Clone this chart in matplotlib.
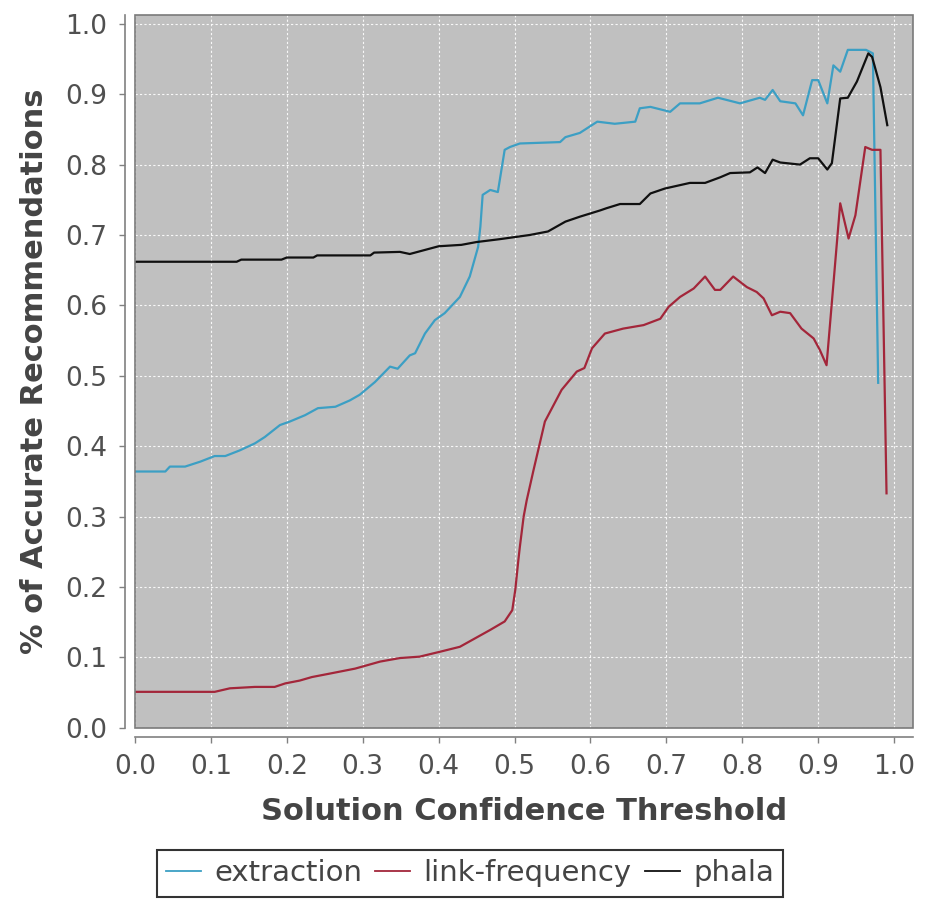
import numpy as np
import matplotlib
matplotlib.use("Agg")
import matplotlib.pyplot as plt
from matplotlib.patches import Rectangle

# ---------------------------------------------------------------
# datos (umbral de confianza -> % aciertos)
# ---------------------------------------------------------------
x_ext = [0.00, 0.04, 0.046, 0.066, 0.086, 0.105, 0.119, 0.138, 0.158, 0.171,
         0.191, 0.204, 0.224, 0.241, 0.264, 0.283, 0.296, 0.316, 0.336, 0.346,
         0.362, 0.369, 0.382, 0.395, 0.408, 0.428, 0.441, 0.452, 0.455, 0.458,
         0.468, 0.478, 0.487, 0.494, 0.507, 0.56, 0.567, 0.586, 0.609, 0.632,
         0.659, 0.665, 0.679, 0.705, 0.718, 0.744, 0.768, 0.797, 0.823, 0.83,
         0.84, 0.85, 0.87, 0.88, 0.892, 0.90, 0.912, 0.92, 0.929, 0.939,
         0.955, 0.963, 0.972, 0.979]
y_ext = [0.364, 0.364, 0.371, 0.371, 0.378, 0.386, 0.386, 0.394, 0.404, 0.413,
         0.430, 0.435, 0.444, 0.454, 0.456, 0.465, 0.473, 0.491, 0.513, 0.510,
         0.529, 0.532, 0.560, 0.579, 0.589, 0.612, 0.641, 0.683, 0.712, 0.757,
         0.764, 0.761, 0.821, 0.825, 0.830, 0.832, 0.839, 0.845, 0.861, 0.858,
         0.861, 0.880, 0.882, 0.875, 0.887, 0.887, 0.895, 0.887, 0.895, 0.892,
         0.906, 0.890, 0.887, 0.870, 0.920, 0.920, 0.887, 0.941, 0.932, 0.963,
         0.963, 0.963, 0.958, 0.490]

x_lf = [0.0, 0.105, 0.125, 0.158, 0.184, 0.198, 0.217, 0.233, 0.257, 0.29,
        0.323, 0.349, 0.375, 0.402, 0.428, 0.448, 0.468, 0.487, 0.497, 0.501,
        0.505, 0.507, 0.512, 0.516, 0.525, 0.54, 0.562, 0.582, 0.592, 0.602,
        0.619, 0.643, 0.67, 0.692, 0.703, 0.718, 0.736, 0.751, 0.764, 0.771,
        0.788, 0.806, 0.819, 0.828, 0.839, 0.85, 0.863, 0.878, 0.894, 0.902,
        0.911, 0.929, 0.94, 0.949, 0.962, 0.971, 0.982, 0.99]
y_lf = [0.051, 0.051, 0.056, 0.058, 0.058, 0.063, 0.067, 0.072, 0.077, 0.084,
        0.094, 0.099, 0.101, 0.108, 0.115, 0.127, 0.139, 0.151, 0.167, 0.196,
        0.238, 0.257, 0.300, 0.323, 0.366, 0.435, 0.480, 0.506, 0.511, 0.539,
        0.560, 0.567, 0.572, 0.581, 0.598, 0.612, 0.624, 0.641, 0.622, 0.622,
        0.641, 0.626, 0.619, 0.610, 0.586, 0.591, 0.589, 0.567, 0.553, 0.537,
        0.515, 0.745, 0.695, 0.728, 0.825, 0.821, 0.821, 0.333]

x_ph = [0.0, 0.134, 0.14, 0.193, 0.20, 0.235, 0.24, 0.31, 0.315, 0.349,
        0.362, 0.40, 0.43, 0.45, 0.48, 0.52, 0.544, 0.567, 0.586, 0.613,
        0.621, 0.639, 0.665, 0.679, 0.698, 0.731, 0.751, 0.771, 0.784, 0.81,
        0.82, 0.83, 0.84, 0.85, 0.876, 0.889, 0.90, 0.912, 0.918, 0.929,
        0.939, 0.951, 0.966, 0.971, 0.982, 0.991]
y_ph = [0.662, 0.662, 0.665, 0.665, 0.668, 0.668, 0.671, 0.671, 0.675, 0.676,
        0.673, 0.684, 0.686, 0.690, 0.694, 0.700, 0.705, 0.719, 0.726, 0.735,
        0.738, 0.744, 0.744, 0.759, 0.766, 0.774, 0.774, 0.782, 0.788, 0.789,
        0.796, 0.788, 0.807, 0.803, 0.800, 0.809, 0.809, 0.793, 0.802, 0.894,
        0.895, 0.918, 0.958, 0.953, 0.910, 0.856]

ticks = [0.0, 0.1, 0.2, 0.3, 0.4, 0.5, 0.6, 0.7, 0.8, 0.9, 1.0]
tick_labels = ["0.0", "0.1", "0.2", "0.3", "0.4", "0.5", "0.6", "0.7", "0.8", "0.9", "1.0"]

# ---------------------------------------------------------------
# figura
# ---------------------------------------------------------------
fig = plt.figure(figsize=(9.27, 9.0), dpi=100)
ax = fig.add_axes([0.1456, 0.1914, 0.8394, 0.7923])
ax.set_facecolor("#c0c0c0")

ax.plot(x_ext, y_ext, color="#3c9fc4", lw=1.6, label="extraction")
ax.plot(x_lf, y_lf, color="#a3263a", lw=1.6, label="link-frequency")
ax.plot(x_ph, y_ph, color="#101010", lw=1.6, label="phala")

ax.set_xlim(0, 1.025)
ax.set_ylim(0, 1.013)

ax.set_xticks(ticks)
ax.set_xticklabels(tick_labels)
ax.set_yticks(ticks)
ax.set_yticklabels(tick_labels)
ax.grid(True, color="white", linestyle=(0, (2, 2)), linewidth=0.8, alpha=0.9)
ax.set_axisbelow(True)

# ejes separados del area del grafico (estilo JFreeChart)
for s in ["top", "right"]:
    ax.spines[s].set_visible(False)
for s in ["left", "bottom"]:
    ax.spines[s].set_position(("outward", 7))
    ax.spines[s].set_color("#808080")
    ax.spines[s].set_linewidth(1.2)
ax.add_patch(Rectangle((0, 0), 1, 1, transform=ax.transAxes, fill=False,
                       ec="#7a7a7a", lw=1.2, clip_on=False, zorder=5))

ax.tick_params(colors="#808080", labelcolor="#505050", labelsize=19,
               length=4, width=1)
ax.tick_params(axis="y", pad=9)
ax.tick_params(axis="x", pad=8)

ax.set_xlabel("Solution Confidence Threshold", fontsize=22, fontweight="bold",
              color="#444444")
ax.set_ylabel("% of Accurate Recommendations", fontsize=22, fontweight="bold",
              color="#444444")
ax.xaxis.set_label_coords(0.5, -0.097)
ax.yaxis.set_label_coords(-0.11, 0.5)

leg = fig.legend(loc="lower center", bbox_to_anchor=(470 / 927, 0.0), ncol=3,
                 fontsize=21, frameon=True, fancybox=False, edgecolor="black",
                 handlelength=1.2, handletextpad=0.45, columnspacing=0.45,
                 borderpad=0.33, borderaxespad=0.1)
leg.get_frame().set_linewidth(1.5)
for line in leg.get_lines():
    line.set_linewidth(1.3)
for t in leg.get_texts():
    t.set_color("#444444")

fig.savefig("out.png", dpi=100, facecolor="white")
